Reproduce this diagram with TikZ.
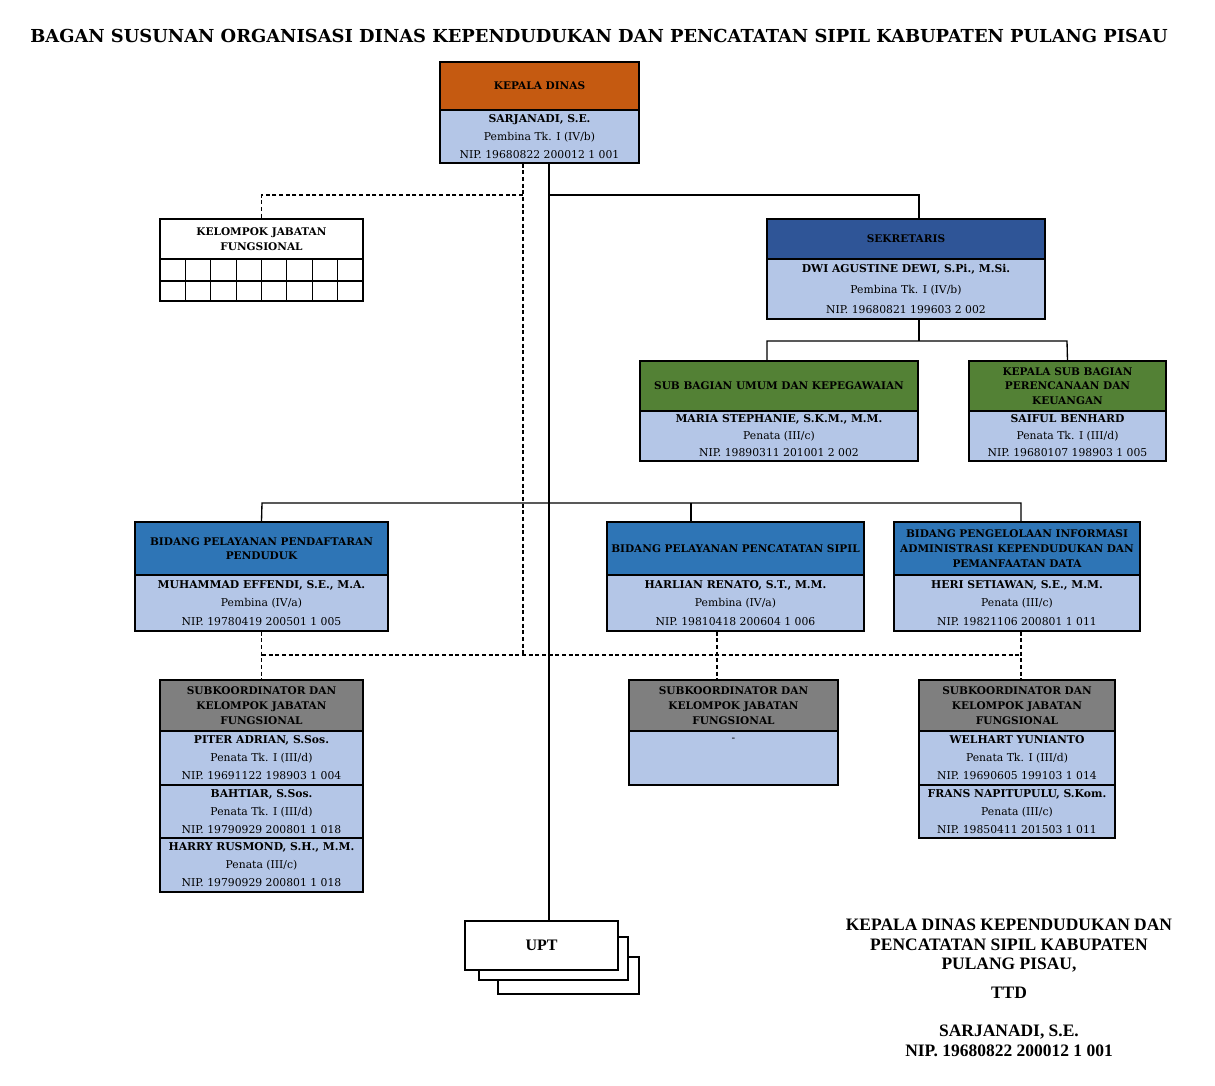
\documentclass[tikz,border=0pt]{standalone}
\usepackage{fontspec}
\setmainfont{DejaVu Serif}
\newfontfamily\sigfont{Liberation Serif}
\usetikzlibrary{positioning}

\definecolor{kdorange}{HTML}{C55A11}
\definecolor{sekblue}{HTML}{2F5597}
\definecolor{subgreen}{HTML}{538135}
\definecolor{bidblue}{HTML}{2E75B6}
\definecolor{kgray}{HTML}{7F7F7F}
\definecolor{bodyblue}{HTML}{B4C6E7}

\tikzset{
  box/.style={draw, line width=0.9pt, inner sep=0pt, align=center},
  hdr/.style={box, font=\fontsize{7.9}{11}\selectfont\bfseries},
  bdy/.style={box, fill=bodyblue, font=\fontsize{8.1}{13.5}\selectfont},
  uptbox/.style={box, fill=white, font=\sigfont\fontsize{12}{14}\selectfont\bfseries},
  line/.style={line width=1pt},
  dline/.style={line width=1pt, dash pattern=on 3pt off 2pt},
  sig/.style={align=center, inner sep=0pt, font=\sigfont\fontsize{13.1}{14.6}\selectfont\bfseries},
}

% box from (x1,y1) to (x2,y2) in pixels
\newcommand{\cell}[7]{\node[#6, minimum width={(#4-#2)*0.75pt}, minimum height={(#5-#3)*0.75pt}] (#1) at ({(#2+#4)/2},{(#3+#5)/2}) {#7};}

\begin{document}
\begin{tikzpicture}[x=0.75pt, y=-0.75pt]
\useasboundingbox (0,0) rectangle (1215,1086);

% title
\node[font=\fontsize{13.4}{16}\selectfont\bfseries] (title) at (599,36) {BAGAN SUSUNAN ORGANISASI DINAS KEPENDUDUKAN DAN PENCATATAN SIPIL KABUPATEN PULANG PISAU};

% kepala dinas
\cell{kdh}{440}{62}{639}{110}{hdr, fill=kdorange}{KEPALA DINAS}
\cell{kdb}{440}{110}{639}{163}{bdy}{{\bfseries SARJANADI, S.E.}\\Pembina Tk. I (IV/b)\\NIP. 19680822 200012 1 001}

% kelompok jabatan fungsional
\cell{kjf}{160}{219}{363}{259}{hdr, fill=white}{KELOMPOK JABATAN\\FUNGSIONAL}
\foreach \i in {0,...,7}{
  \draw[line width=0.9pt] ({160+\i*25.375},259) rectangle ++(25.375,22);
  \draw[line width=0.9pt] ({160+\i*25.375},281) rectangle ++(25.375,20);
}

% sekretariat
\cell{sekh}{767}{219}{1045}{259}{hdr, fill=sekblue}{SEKRETARIS}
\cell{sekb}{767}{259}{1045}{319}{bdy, font=\fontsize{8.1}{15.5}\selectfont}{{\bfseries DWI AGUSTINE DEWI, S.Pi., M.Si.}\\Pembina Tk. I (IV/b)\\NIP. 19680821 199603 2 002}
\cell{subh}{640}{361}{918}{411}{hdr, fill=subgreen}{SUB BAGIAN UMUM DAN KEPEGAWAIAN}
\cell{subb}{640}{411}{918}{461}{bdy, font=\fontsize{8.1}{12.75}\selectfont}{{\bfseries MARIA STEPHANIE, S.K.M., M.M.}\\Penata (III/c)\\NIP. 19890311 201001 2 002}
\cell{renh}{969}{361}{1166}{411}{hdr, fill=subgreen}{KEPALA SUB BAGIAN\\PERENCANAAN DAN\\KEUANGAN}
\cell{renb}{969}{411}{1166}{461}{bdy, font=\fontsize{8.1}{12.75}\selectfont}{{\bfseries SAIFUL BENHARD}\\Penata Tk. I (III/d)\\NIP. 19680107 198903 1 005}

% bidang
\cell{b1h}{135}{522}{388}{575}{hdr, fill=bidblue}{BIDANG PELAYANAN PENDAFTARAN\\PENDUDUK}
\cell{b1b}{135}{575}{388}{631}{bdy, font=\fontsize{8.1}{14}\selectfont}{{\bfseries MUHAMMAD EFFENDI, S.E., M.A.}\\Pembina (IV/a)\\NIP. 19780419 200501 1 005}
\cell{b2h}{607}{522}{864}{575}{hdr, fill=bidblue}{BIDANG PELAYANAN PENCATATAN SIPIL}
\cell{b2b}{607}{575}{864}{631}{bdy, font=\fontsize{8.1}{14}\selectfont}{{\bfseries HARLIAN RENATO, S.T., M.M.}\\Pembina (IV/a)\\NIP. 19810418 200604 1 006}
\cell{b3h}{894}{522}{1140}{575}{hdr, fill=bidblue}{BIDANG PENGELOLAAN INFORMASI\\ADMINISTRASI KEPENDUDUKAN DAN\\PEMANFAATAN DATA}
\cell{b3b}{894}{575}{1140}{631}{bdy, font=\fontsize{8.1}{14}\selectfont}{{\bfseries HERI SETIAWAN, S.E., M.M.}\\Penata (III/c)\\NIP. 19821106 200801 1 011}

% subkoordinator
\cell{k1h}{160}{680}{363}{731}{hdr, fill=kgray}{SUBKOORDINATOR DAN\\KELOMPOK JABATAN\\FUNGSIONAL}
\cell{k1a}{160}{731}{363}{785}{bdy}{{\bfseries PITER ADRIAN, S.Sos.}\\Penata Tk. I (III/d)\\NIP. 19691122 198903 1 004}
\cell{k1b}{160}{785}{363}{838}{bdy}{{\bfseries BAHTIAR, S.Sos.}\\Penata Tk. I (III/d)\\NIP. 19790929 200801 1 018}
\cell{k1c}{160}{838}{363}{892}{bdy}{{\bfseries HARRY RUSMOND, S.H., M.M.}\\Penata (III/c)\\NIP. 19790929 200801 1 018}
\cell{k2h}{629}{680}{838}{731}{hdr, fill=kgray}{SUBKOORDINATOR DAN\\KELOMPOK JABATAN\\FUNGSIONAL}
\cell{k2a}{629}{731}{838}{785}{bdy}{-\\~\\~}
\cell{k3h}{919}{680}{1115}{731}{hdr, fill=kgray}{SUBKOORDINATOR DAN\\KELOMPOK JABATAN\\FUNGSIONAL}
\cell{k3a}{919}{731}{1115}{785}{bdy}{{\bfseries WELHART YUNIANTO}\\Penata Tk. I (III/d)\\NIP. 19690605 199103 1 014}
\cell{k3b}{919}{785}{1115}{838}{bdy}{{\bfseries FRANS NAPITUPULU, S.Kom.}\\Penata (III/c)\\NIP. 19850411 201503 1 011}

% upt
\cell{upt3}{498}{957}{639}{994}{uptbox}{}
\cell{upt2}{479}{937}{628}{980}{uptbox}{}
\cell{upt}{465}{921}{618}{970}{uptbox}{UPT}

% junctions
\coordinate (sp) at (549,195);
\coordinate (dsp) at (523,195);
\coordinate (sekin) at (919,195);
\coordinate (sj1) at (767,341);
\coordinate (sj2) at (1067,341);
\coordinate (bj1) at (262,503);
\coordinate (bj2) at (691,503);
\coordinate (bj3) at (1021,503);
\coordinate (dj1) at (262,655);
\coordinate (dj2) at (717,655);
\coordinate (dj3) at (1021,655);

% solid lines
\draw[line] (kdb.south -| sp) -- (upt.north -| sp);
\draw[line] (sp) -- (sekin) -- (sekin |- sekh.north);
\draw[line] (sekb.south -| sekin) -- (sekin |- sj1);
\draw[line] (sj1 |- subh.north) -- (sj1) -- (sj2) -- (renh.north);
\draw[line] (b1h.north) -- (bj1) -- (bj3) -- (bj3 |- b3h.north);
\draw[line] (bj2) -- (bj2 |- b2h.north);

% dashed lines
\draw[dline] (kdb.south -| dsp) -- (dsp |- dj1);
\draw[dline] (dsp) -| (kjf.north);
\draw[dline] (b1b.south) -- (k1h.north);
\draw[dline] (dj1) -- (dj3);
\draw[dline] (dj2 |- b2b.south) -- (dj2 |- k2h.north);
\draw[dline] (dj3 |- b3b.south) -- (dj3 |- k3h.north);

% tanda tangan
\node[sig] (sig1) at (1009,946) {KEPALA DINAS KEPENDUDUKAN DAN\\PENCATATAN SIPIL KABUPATEN\\PULANG PISAU,};
\node[sig] (ttd) at (1009,993) {TTD};
\node[sig] (sig2) at (1009,1041) {SARJANADI, S.E.\\NIP. 19680822 200012 1 001};
\end{tikzpicture}
\end{document}
